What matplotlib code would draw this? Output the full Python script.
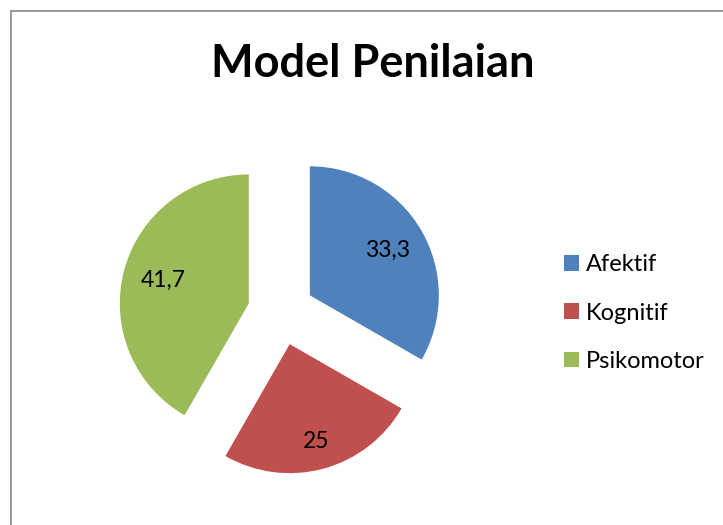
import matplotlib
matplotlib.use("Agg")
import matplotlib.pyplot as plt
from matplotlib.patches import Rectangle
import numpy as np

plt.rcParams['font.family'] = ['Lato', 'DejaVu Sans']

# data
kategori = ["Afektif", "Kognitif", "Psikomotor"]
nilai = [33.3, 25, 41.7]
warna = ["#4F81BD", "#C0504D", "#9BBB59"]
judul = "Model Penilaian"

W, H = 723, 525
fig = plt.figure(figsize=(W / 100, H / 100), dpi=100)
fig.patch.set_facecolor("white")

# garis bingkai (kanan & bawah terpotong)
fig.patches.append(Rectangle((11 / W, -0.05), 1.1, 1 - 11 / H + 0.05,
                             transform=fig.transFigure, fill=False,
                             edgecolor="#878787", linewidth=1.2))

ax = fig.add_axes([0, 0, 1, 1])
r_px = 129.0
cx, cy = 281.0, 312.0
explode = [33.3 / r_px] * 3

wedges, _ = ax.pie(nilai, colors=warna, startangle=90, counterclock=False,
                   explode=explode, radius=1.0, center=(0, 0),
                   wedgeprops=dict(linewidth=0))
ax.set_aspect("auto")
ax.set_xlim(-cx / r_px, (W - cx) / r_px)
ax.set_ylim(-(H - cy) / r_px, cy / r_px)
ax.axis("off")

# label data, format koma desimal
jarak = [0.70, 0.78, 0.69]
for w, v, d in zip(wedges, nilai, jarak):
    t = np.deg2rad((w.theta1 + w.theta2) / 2)
    x0, y0 = w.center
    s = f"{v:g}".replace(".", ",")
    ax.text(x0 + d * np.cos(t), y0 + d * np.sin(t), s, ha="center",
            va="center", fontsize=16.5, color="black")

fig.text(373 / W, 1 - 77 / H, judul, ha="center", va="baseline",
         fontsize=32.5, fontweight="bold")

fig.legend(wedges, kategori, loc="center left",
           bbox_to_anchor=(564 / W, 1 - 313 / H), frameon=False,
           fontsize=17, handlelength=0.64, handleheight=0.64,
           handletextpad=0.3, labelspacing=1.15, borderpad=0,
           borderaxespad=0)

fig.savefig("out.png", dpi=100)
